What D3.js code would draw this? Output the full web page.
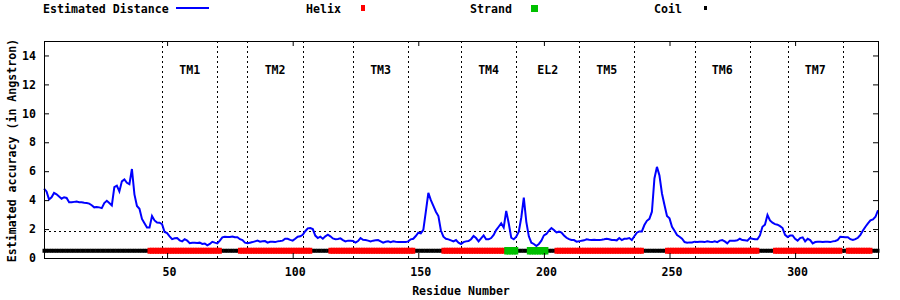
<!DOCTYPE html>
<html>
<head>
<meta charset="utf-8">
<script src="https://cdn.jsdelivr.net/npm/d3@7"></script>
<style>
  body { margin: 0; background: #fff; }
  text { font-family: "DejaVu Sans Mono", monospace; font-weight: bold; font-size: 11.6px; fill: #000; }
</style>
</head>
<body>
<div id="chart"></div>
<script>
// estimated distance per residue (residue 1..333)
const distance = [
  4.8, 4.6, 4.05, 4.2, 4.5, 4.4, 4.25, 4.1, 4.2, 4.15,
  3.85, 3.85, 3.88, 3.9, 3.86, 3.85, 3.82, 3.8, 3.76, 3.65,
  3.5, 3.52, 3.5, 3.45, 3.8, 3.95, 3.8, 3.63, 4.9, 5.0,
  4.6, 5.3, 5.43, 5.2, 5.1, 6.15, 4.4, 3.6, 3.4, 2.7,
  2.4, 2.1, 2.1, 2.9, 2.6, 2.45, 2.44, 2.34, 1.8, 1.72,
  1.5, 1.3, 1.36, 1.38, 1.22, 1.15, 1.3, 1.2, 1.02, 1.06,
  1.05, 1.03, 1.06, 0.97, 1.0, 0.87, 0.97, 1.12, 1.06, 1.01,
  1.2, 1.43, 1.47, 1.46, 1.45, 1.49, 1.43, 1.43, 1.3, 1.24,
  1.06, 1.02, 1.06, 1.1, 1.15, 1.2, 1.13, 1.15, 1.17, 1.06,
  1.12, 1.13, 1.1, 1.15, 1.17, 1.2, 1.33, 1.33, 1.25, 1.2,
  1.33, 1.47, 1.5, 1.6, 1.85, 2.05, 2.07, 2.0, 1.55, 1.38,
  1.47, 1.33, 1.5, 1.61, 1.5, 1.35, 1.3, 1.32, 1.36, 1.24,
  1.15, 1.2, 1.2, 1.18, 1.06, 1.17, 1.38, 1.26, 1.24, 1.2,
  1.15, 1.2, 1.22, 1.24, 1.15, 1.06, 1.12, 1.15, 1.1, 1.15,
  1.12, 1.1, 1.1, 1.1, 1.1, 1.15, 1.29, 1.33, 1.52, 1.75,
  1.7, 1.95, 3.2, 4.5, 4.0, 3.6, 3.2, 2.9, 1.9, 1.47,
  1.33, 1.29, 1.22, 1.15, 1.24, 1.06, 0.97, 1.1, 1.15, 1.17,
  1.3, 1.52, 1.38, 1.15, 1.36, 1.56, 1.29, 1.29, 1.38, 1.59,
  1.93, 2.16, 2.4, 2.1, 3.26, 2.4, 1.4, 1.29, 1.47, 1.82,
  2.8, 4.18, 2.5, 1.5, 1.06, 0.97, 0.83, 0.97, 1.2, 1.56,
  1.66, 1.89, 2.07, 1.93, 1.77, 1.82, 1.75, 1.56, 1.4, 1.3,
  1.24, 1.24, 1.13, 1.15, 1.2, 1.22, 1.29, 1.26, 1.24, 1.26,
  1.24, 1.25, 1.26, 1.29, 1.33, 1.3, 1.24, 1.24, 1.22, 1.38,
  1.24, 1.33, 1.33, 1.38, 1.24, 1.5, 1.75, 1.84, 1.84, 2.28,
  2.57, 2.71, 3.2, 5.5, 6.3, 5.7, 4.46, 3.66, 2.9, 2.74,
  2.16, 1.89, 1.59, 1.47, 1.33, 1.1, 1.06, 1.08, 1.08, 1.13,
  1.1, 1.12, 1.13, 1.1, 1.15, 1.12, 1.1, 1.15, 1.1, 1.2,
  1.24, 1.15, 1.01, 1.2, 1.2, 1.2, 1.22, 1.33, 1.24, 1.22,
  1.2, 1.38, 1.33, 1.3, 1.29, 1.56, 2.16, 2.3, 2.97, 2.6,
  2.44, 2.34, 2.3, 2.2, 2.07, 1.6, 1.45, 1.55, 1.56, 1.33,
  1.2, 1.38, 1.43, 1.15, 1.33, 1.24, 1.01, 1.1, 1.12, 1.13,
  1.1, 1.13, 1.12, 1.1, 1.15, 1.18, 1.25, 1.47, 1.45, 1.43,
  1.43, 1.3, 1.24, 1.3, 1.4, 1.6, 1.9, 2.16, 2.39, 2.6,
  2.67, 2.85, 3.3
];

// secondary structure segments (H helix, E strand, C coil)
const ssStart = [1, 43, 72, 79, 108, 115, 149, 160, 185, 190, 194, 202, 205, 240, 249, 286, 292, 319, 321, 331];
const ssEnd   = [42, 71, 78, 107, 114, 148, 159, 184, 189, 193, 201, 204, 239, 248, 285, 291, 318, 320, 330, 333];
const ssType  = ["C", "H", "C", "H", "C", "H", "C", "H", "E", "C", "E", "C", "H", "C", "H", "C", "H", "C", "H", "C"];

// transmembrane regions
const regionLabels = ["TM1", "TM2", "TM3", "TM4", "EL2", "TM5", "TM6", "TM7"];
const regionStart  = [48, 82, 124, 167, 189, 214, 260, 297];
const regionEnd    = [70, 104, 146, 189, 214, 236, 282, 319];

const xTicks = [50, 100, 150, 200, 250, 300];
const yTicks = [0, 2, 4, 6, 8, 10, 12, 14];
const cutoff = 1.85;

const W = 900, H = 300;
const margin = { top: 41, right: 22, bottom: 42, left: 44 };
const width = W - margin.left - margin.right;
const height = H - margin.top - margin.bottom;

const svg = d3.select("#chart").append("svg")
  .attr("width", W).attr("height", H);

const g = svg.append("g")
  .attr("transform", `translate(${margin.left},${margin.top})`);

const x = d3.scaleLinear().domain([1, distance.length]).range([0, width]);
const y = d3.scaleLinear().domain([0, 15]).range([height, 0]);

// dashed region boundaries
const bounds = Array.from(new Set(regionStart.concat(regionEnd)));
g.selectAll(".bound").data(bounds).enter().append("line")
  .attr("x1", d => Math.round(x(d)) + 0.5).attr("x2", d => Math.round(x(d)) + 0.5)
  .attr("y1", 0).attr("y2", height)
  .attr("stroke", "#000").attr("stroke-dasharray", "2,3");

g.append("line")
  .attr("x1", 0).attr("x2", width)
  .attr("y1", Math.round(y(cutoff)) + 0.5).attr("y2", Math.round(y(cutoff)) + 0.5)
  .attr("stroke", "#000").attr("stroke-dasharray", "2,3");

// region labels
g.selectAll(".region").data(regionLabels).enter().append("text")
  .attr("x", (d, i) => (x(regionStart[i]) + x(regionEnd[i])) / 2)
  .attr("y", y(13) + 4)
  .attr("text-anchor", "middle")
  .text(d => d);

// per-residue secondary structure marks
const ss = [];
ssType.forEach((t, i) => {
  for (let r = ssStart[i]; r <= ssEnd[i]; r++) ss.push({ r: r, t: t });
});
const ssStyle = {
  C: { w: 3, h: 4, fill: "#000" },
  H: { w: 4, h: 6, fill: "#ff0000" },
  E: { w: 4, h: 7.5, fill: "#00c000" }
};
["C", "H", "E"].forEach(t => {
  g.selectAll(".ss" + t).data(ss.filter(d => d.t === t)).enter().append("rect")
    .attr("x", d => x(d.r) - ssStyle[t].w / 2)
    .attr("y", y(0.5) - ssStyle[t].h / 2)
    .attr("width", ssStyle[t].w)
    .attr("height", ssStyle[t].h)
    .attr("fill", ssStyle[t].fill);
});

// distance line
const line = d3.line()
  .x((d, i) => x(i + 1))
  .y(d => y(d));
g.append("path")
  .datum(distance)
  .attr("d", line)
  .attr("fill", "none")
  .attr("stroke", "#0000ff")
  .attr("stroke-width", 2);

// axes (gnuplot style: inward ticks, mirrored)
const axB = g.append("g").attr("transform", `translate(0,${height})`)
  .call(d3.axisBottom(x).tickValues(xTicks).tickSize(-5).tickPadding(10));
axB.selectAll("text").attr("dx", 2);
const axT = g.append("g")
  .call(d3.axisTop(x).tickValues(xTicks).tickSize(-5).tickFormat(""));
const axL = g.append("g")
  .call(d3.axisLeft(y).tickValues(yTicks).tickSize(-5).tickPadding(8));
const axR = g.append("g").attr("transform", `translate(${width},0)`)
  .call(d3.axisRight(y).tickValues(yTicks).tickSize(-5).tickFormat(""));
[axB, axT, axL, axR].forEach(a => {
  a.select(".domain").remove();
  a.selectAll("line").attr("stroke", "#000");
  a.selectAll("text").attr("font-family", null).attr("font-size", null).attr("fill", "#000");
});

g.append("rect")
  .attr("x", 0.5).attr("y", 0.5)
  .attr("width", width).attr("height", height)
  .attr("fill", "none").attr("stroke", "#000");

// axis titles
svg.append("text")
  .attr("x", margin.left + width / 2).attr("y", 295)
  .attr("text-anchor", "middle")
  .text("Residue Number");
svg.append("text")
  .attr("transform", `translate(16,${margin.top + height / 2 + 1}) rotate(-90)`)
  .attr("text-anchor", "middle")
  .text("Estimated accuracy (in Angstron)");

// legend
const legend = svg.append("g");
legend.append("text").attr("x", 43).attr("y", 13).text("Estimated Distance");
legend.append("line")
  .attr("x1", 176).attr("x2", 209).attr("y1", 8).attr("y2", 8)
  .attr("stroke", "#0000ff").attr("stroke-width", 2);
legend.append("text").attr("x", 306).attr("y", 13).text("Helix");
legend.append("rect").attr("x", 361).attr("y", 5).attr("width", 4).attr("height", 6).attr("fill", "#ff0000");
legend.append("text").attr("x", 470).attr("y", 13).text("Strand");
legend.append("rect").attr("x", 531).attr("y", 5).attr("width", 7).attr("height", 7).attr("fill", "#00c000");
legend.append("text").attr("x", 654).attr("y", 13).text("Coil");
legend.append("rect").attr("x", 704).attr("y", 6).attr("width", 3).attr("height", 4).attr("fill", "#000");
</script>
</body>
</html>
